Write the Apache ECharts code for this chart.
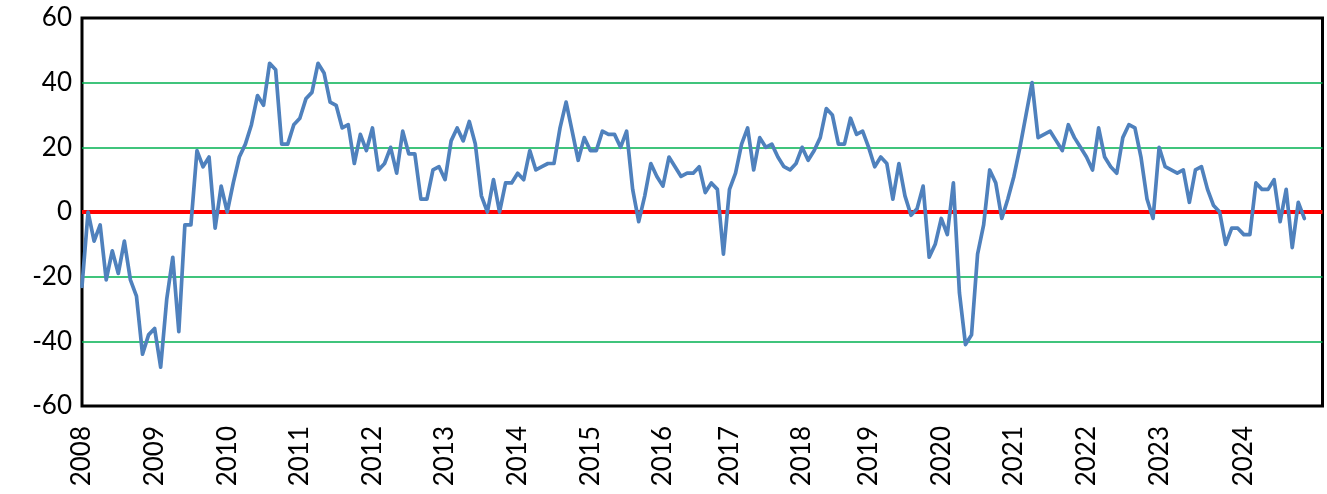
<!DOCTYPE html>
<html>
<head>
<meta charset="utf-8">
<script src="https://cdn.jsdelivr.net/npm/echarts@6/dist/echarts.min.js"></script>
<style>
  html, body { margin: 0; padding: 0; background: #ffffff; }
  #chart { width: 1327px; height: 494px; }
</style>
</head>
<body>
<div id="chart"></div>
<script>
// Monthly index values (one point per category)
const values = [
  -23, 0, -9, -4, -21, -12, -19, -9, -21, -26, -44, -38,
  -36, -48, -27, -14, -37, -4, -4, 19, 14, 17, -5, 8,
  0, 9, 17, 21, 27, 36, 33, 46, 44, 21, 21, 27,
  29, 35, 37, 46, 43, 34, 33, 26, 27, 15, 24, 19,
  26, 13, 15, 20, 12, 25, 18, 18, 4, 4, 13, 14,
  10, 22, 26, 22, 28, 21, 5, 0, 10, 0, 9, 9,
  12, 10, 19, 13, 14, 15, 15, 26, 34, 25, 16, 23,
  19, 19, 25, 24, 24, 20, 25, 7, -3, 5, 15, 11,
  8, 17, 14, 11, 12, 12, 14, 6, 9, 7, -13,
  7, 12, 21, 26, 13, 23, 20, 21, 17, 14, 13, 15,
  20, 16, 19, 23, 32, 30, 21, 21, 29, 24, 25,
  20, 14, 17, 15, 4, 15, 5, -1, 1, 8, -14, -10,
  -2, -7, 9, -25, -41, -38, -13, -4, 13, 9, -2, 4,
  11, 20, 30, 40, 23, 24, 25, 22, 19, 27, 23, 20,
  17, 13, 26, 17, 14, 12, 23, 27, 26, 17, 4, -2,
  20, 14, 13, 12, 13, 3, 13, 14, 7, 2, 0, -10, -5, -5,
  -7, -7, 9, 7, 7, 10, -3, 7, -11, 3, -2
];

// Year tick labels and the category index where each one sits
const yearLabels = ['2008','2009','2010','2011','2012','2013','2014','2015','2016',
                    '2017','2018','2019','2020','2021','2022','2023','2024'];
const yearStartIndex = [0, 12, 24, 36, 48, 60, 72, 84, 96, 107, 119, 130, 142, 154, 166, 178, 192];

// Total categories on the axis (last few are empty, as in the source)
const categoryCount = 206;

// Y-axis scale
const yMin = -60, yMax = 60, yStep = 20;

const labelAt = {};
yearStartIndex.forEach((idx, k) => { labelAt[idx] = yearLabels[k]; });
const categories = [];
for (let i = 0; i < categoryCount; i++) categories.push('c' + i);

const chart = echarts.init(document.getElementById('chart'), null, { renderer: 'canvas' });
chart.setOption({
  animation: false,
  backgroundColor: '#ffffff',
  grid: {
    left: 82, right: 4.5, top: 18, bottom: 88,
    containLabel: false,
    outerBoundsMode: 'none',
    show: true,
    backgroundColor: '#FFFFFF',
    borderColor: '#000000',
    borderWidth: 3
  },
  xAxis: {
    type: 'category',
    data: categories,
    boundaryGap: false,
    axisLine: { show: false },
    axisTick: { show: false },
    splitLine: { show: false },
    axisLabel: {
      interval: function (idx) { return labelAt[idx] !== undefined; },
      formatter: function (val, idx) { return labelAt[idx] || ''; },
      rotate: 90,
      margin: 20,
      color: '#000000',
      fontFamily: 'Lato',
      fontSize: 26
    }
  },
  yAxis: {
    type: 'value',
    min: yMin, max: yMax, interval: yStep,
    axisLine: { show: false },
    axisTick: { show: false },
    axisLabel: {
      margin: 10,
      color: '#000000',
      fontFamily: 'Lato',
      fontSize: 26
    },
    splitLine: {
      show: true,
      showMinLine: false,
      showMaxLine: false,
      lineStyle: { color: '#00B050', width: 1.6 }
    }
  },
  series: [{
    type: 'line',
    data: values,
    symbol: 'none',
    smooth: false,
    lineStyle: { color: '#4F81BD', width: 3.7, join: 'round', cap: 'round' },
    z: 3,
    markLine: {
      silent: true,
      symbol: ['none', 'none'],
      label: { show: false },
      lineStyle: { color: '#FF0000', width: 4, type: 'solid' },
      data: [{ yAxis: 0 }],
      z: 2
    }
  }]
});
</script>
</body>
</html>
